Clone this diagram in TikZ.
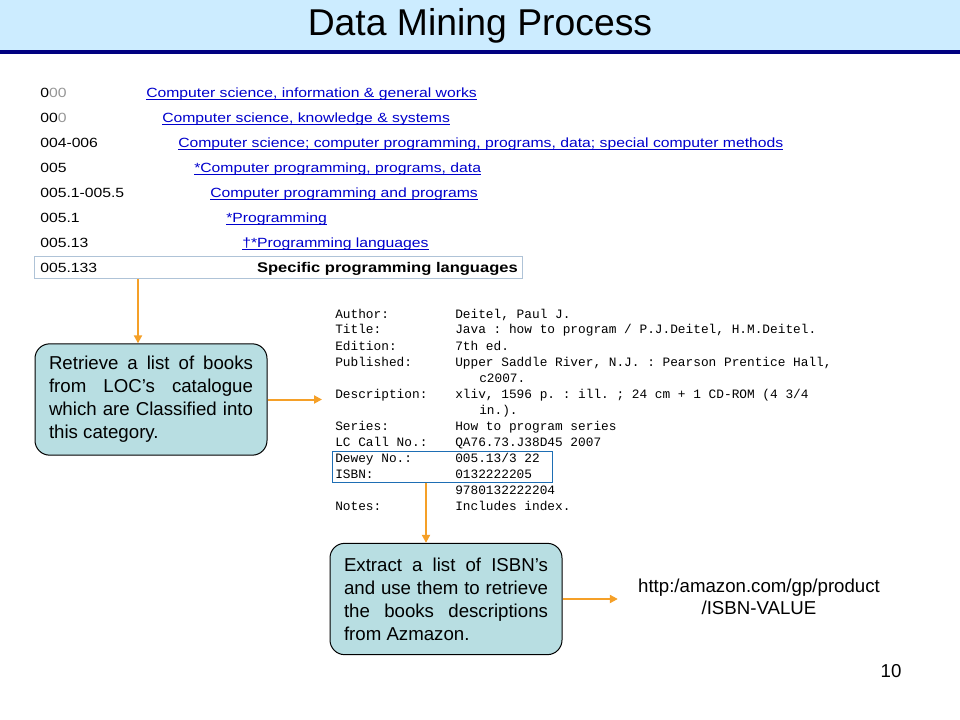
\documentclass[tikz,border=0pt]{standalone}
\usepackage{fontspec}
\setmainfont{Liberation Sans}
\setmonofont{Liberation Mono}
\usetikzlibrary{arrows.meta}

\definecolor{titlebg}{RGB}{204,236,255}
\definecolor{navyline}{RGB}{0,0,128}
\definecolor{linkblue}{RGB}{0,0,204}
\definecolor{zerogrey}{RGB}{150,150,150}
\definecolor{selframe}{RGB}{175,195,215}
\definecolor{taskfill}{RGB}{184,222,226}
\definecolor{flowcol}{RGB}{245,160,40}
\definecolor{hlframe}{RGB}{30,110,180}

\newcommand{\wide}[1]{\scalebox{1.18}[1]{#1}}
\newcommand{\lnk}[1]{\wide{\color{linkblue}\underline{\smash{#1}}}}

\tikzset{
  listtxt/.style={anchor=base west, inner sep=0pt, font=\fontsize{10}{12}\selectfont},
  rectxt/.style={anchor=base west, inner sep=0pt, font=\ttfamily\fontsize{9.6}{12}\selectfont},
  taskbox/.style={draw=black, fill=taskfill, rounded corners=11pt, line width=0.75pt,
    minimum width=174pt, minimum height=83.5pt, text width=153pt, align=justify,
    font=\fontsize{14}{17.25}\selectfont},
  flow/.style={draw=flowcol, line width=1.5pt, -{Triangle[length=6pt,width=6pt]}},
}

\begin{document}
\begin{tikzpicture}[x=0.75pt,y=0.75pt,yscale=-1,xscale=1]
\useasboundingbox (0,0) rectangle (960,720);

% title band
\fill[titlebg] (0,0) rectangle (960,50);
\fill[navyline] (0,50) rectangle (960,54);
\node[font=\fontsize{28}{32}\selectfont] (title) at (480,26) {Data Mining Process};

% classification list
\foreach \num/\xt/\txt [count=\i from 0] in {
  {0\textcolor{zerogrey}{00}}/146/{Computer science, information \& general works},
  {00\textcolor{zerogrey}{0}}/162/{Computer science, knowledge \& systems},
  004-006/178/{Computer science; computer programming, programs, data; special computer methods},
  005/194/{*Computer programming, programs, data},
  005.1-005.5/210/{Computer programming and programs},
  005.1/226/{*Programming},
  005.13/242/{\textdagger*Programming languages}}
{
  \node[listtxt] (num\i) at (40,97.5+25*\i) {\wide{\num}};
  \node[listtxt] (cls\i) at (\xt,97.5+25*\i) {\lnk{\txt}};
}
\node[draw=selframe, line width=0.75pt, minimum width=366pt, minimum height=16.5pt, inner sep=0pt] (sel) at (278,268) {};
\node[listtxt] (num7) at (40,272.5) {\wide{005.133}};
\node[listtxt, anchor=base east, font=\bfseries\fontsize{10.5}{12}\selectfont] (spec) at (518,272.5) {\wide{Specific programming languages}};

% step boxes
\node[taskbox] (retrieve) at (151,399.5) {Retrieve a list of books\linebreak from LOC's catalogue\linebreak which are Classified into\linebreak this category.};
\node[taskbox] (extract) at (446,599) {Extract a list of ISBN's\linebreak and use them to retrieve\linebreak the books descriptions\linebreak from Azmazon.};

% catalogue record
\foreach \lab/\val/\vx [count=\i from 0] in {
  Author:/{Deitel, Paul J.}/455,
  Title:/{Java : how to program / P.J.Deitel, H.M.Deitel.}/455,
  Edition:/{7th ed.}/455,
  Published:/{Upper Saddle River, N.J. : Pearson Prentice Hall,}/455,
  {}/{c2007.}/479,
  Description:/{xliv, 1596 p. : ill. ; 24 cm + 1 CD-ROM (4 3/4}/455,
  {}/{in.).}/479,
  Series:/{How to program series}/455,
  LC Call No.:/{QA76.73.J38D45 2007}/455,
  Dewey No.:/{005.13/3 22}/455,
  ISBN:/{0132222205}/455,
  {}/{9780132222204}/455,
  Notes:/{Includes index.}/455}
{
  \node[rectxt] (lab\i) at (335,318+16*\i) {\lab};
  \node[rectxt] (val\i) at (\vx,318+16*\i) {\val};
}
\node[draw=hlframe, line width=0.75pt, minimum width=165pt, minimum height=23.25pt, inner sep=0pt] (hl) at (442,466.5) {};

% url
\node[align=center, inner xsep=15pt, font=\fontsize{14}{16.5}\selectfont] (url) at (759,597) {http:/amazon.com/gp/product\\/ISBN-VALUE};

% page number
\node[font=\fontsize{14}{16}\selectfont] (pnum) at (891,671) {10};

% arrows
\coordinate (recin) at (322,399.5);
\draw[flow] (138,0 |- sel.south) -- (138,0 |- retrieve.north);
\draw[flow] (retrieve.east) -- (recin);
\draw[flow] (426,0 |- hl.south) -- (426,0 |- extract.north);
\draw[flow] (extract.east) -- (extract.east -| url.west);

\end{tikzpicture}
\end{document}
